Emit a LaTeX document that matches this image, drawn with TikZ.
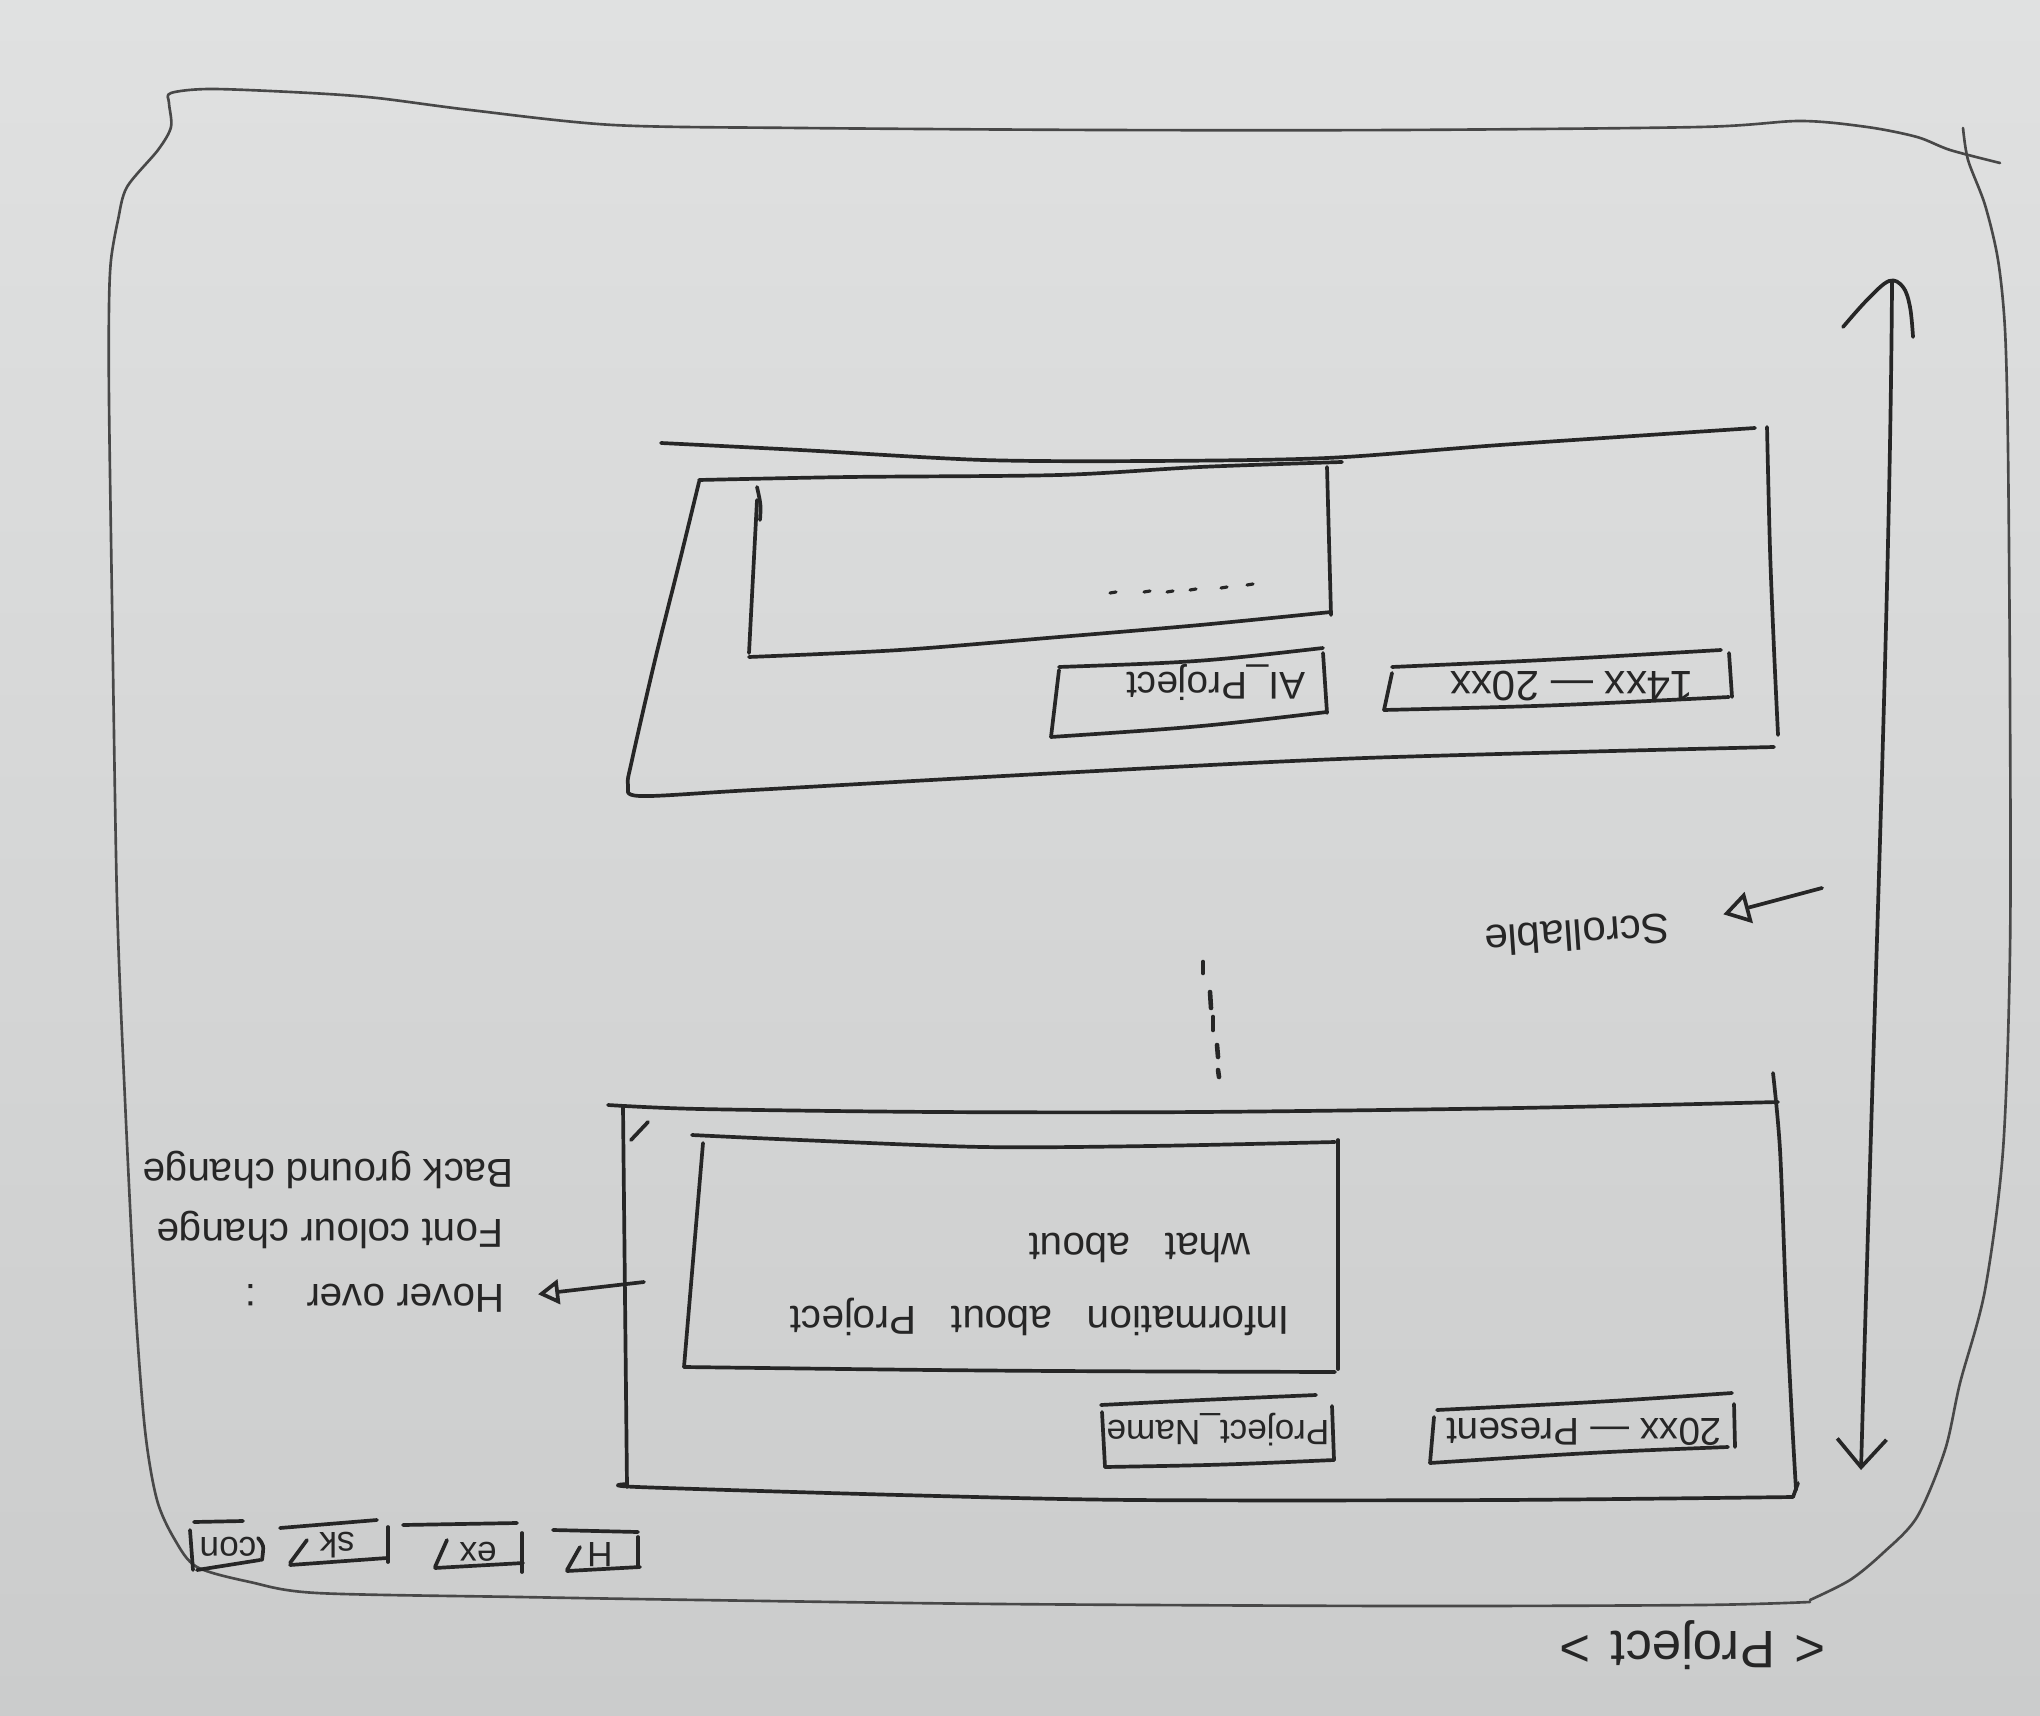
\documentclass[tikz,border=0pt]{standalone}
\usepackage{fontspec}
\setmainfont{Liberation Sans}
\usetikzlibrary{arrows.meta}
\definecolor{paperTop}{RGB}{224,225,225}
\definecolor{paperBot}{RGB}{203,204,204}
\definecolor{ink}{RGB}{38,38,38}
\definecolor{pencil}{RGB}{72,72,72}
\newcommand\fsz[1]{\fontsize{#1}{#1}\selectfont}
\tikzset{
  frame/.style={draw=pencil, line width=0.75pt, line cap=round, line join=round},
  pen/.style={draw=ink, line width=1.05pt, line cap=round, line join=round},
  hand/.style={text=ink, inner sep=0pt, rotate=180},
  dotmark/.style={draw=ink, line width=1.3pt, line cap=round},
}
\begin{document}
\begin{tikzpicture}[x=0.01cm, y=-0.01cm]
\useasboundingbox (0,0) rectangle (2040,1716);
\shade[top color=paperTop, bottom color=paperBot] (0,0) rectangle (2040,1716);

% ---------- page frame ----------
\draw[frame] plot[smooth, tension=0.5] coordinates {
  (2000,163) (1950,150) (1917,137) (1867,127) (1800,121) (1700,127)
  (1400,130) (1100,130) (800,128) (613,125) (470,110) (377,98) (310,93)
  (212,89) (171,93) (169,103) (171,127) (158,150) (127,187) (118,220)
  (111,260) (109,307) (109,400) (112,600) (117,900) (125,1100) (135,1300)
  (145,1430) (157,1500) (175,1540) (197,1567) (250,1582) (317,1593)
  (520,1597) (700,1600) (1000,1604) (1400,1606) (1700,1605) (1810,1602)};
\draw[frame] plot[smooth, tension=0.5] coordinates {
  (1963,128) (1968,160) (1985,205) (1998,260) (2005,330) (2008,450)
  (2010,700) (2010,950) (2003,1150) (1985,1290) (1960,1383) (1945,1450)
  (1917,1517) (1883,1553) (1850,1580) (1810,1600)};

% ---------- title ----------
\node[hand, font=\fsz{15}] (title) at (1693,1645)
  {<\hspace{0.2cm}Project\hspace{0.2cm}>};

% ---------- navigation tabs ----------
\draw[pen] (194,1522) -- (243,1521);
\draw[pen] (190,1530) -- (193,1570);
\draw[pen] (197,1570) -- (260,1560);
\draw[pen] (258,1538) .. controls (264,1545) .. (262,1560);
\node[hand, font=\fsz{10}] (navcon) at (228,1547) {con};

\draw[pen] (280,1528) -- (377,1520);
\draw[pen] (290,1563) -- (307,1540);
\draw[pen] (290,1565) -- (387,1558);
\draw[pen] (388,1527) -- (388,1562);
\node[hand, font=\fsz{10}] (navsk) at (337,1545) {sk};

\draw[pen] (403,1525) -- (517,1523);
\draw[pen] (435,1567) -- (447,1540);
\draw[pen] (435,1568) -- (523,1563);
\draw[pen] (522,1533) -- (522,1572);
\node[hand, font=\fsz{10}] (navex) at (478,1552) {ex};

\draw[pen] (553,1530) -- (638,1532);
\draw[pen] (567,1570) -- (580,1547);
\draw[pen] (567,1571) -- (640,1567);
\draw[pen] (638,1537) -- (638,1567);
\node[hand, font=\fsz{10}] (navh) at (600,1555) {H};

% ---------- scroll indicator ----------
\coordinate (scrollbot) at (1861,1470);
\coordinate (scrolltop) at (1892,282);
\draw[pen, {Straight Barb[length=8pt,width=14pt]}-]
  (scrollbot) .. controls (1874,1000) and (1890,600) .. (scrolltop);
% hand-drawn upper head
\draw[pen] plot[smooth, tension=0.6] coordinates {
  (1843,327) (1867,300) (1889,281) (1903,287) (1910,307) (1913,337)};

\node[hand, rotate=4, font=\fsz{12}] (scrolltxt) at (1577,935) {Scrollable};
\coordinate (scrollfrom) at (1822,888);
\draw[pen, -{Triangle[open, length=7.5pt, width=9pt]}, shorten >=0.55cm]
  (scrollfrom) -- (scrolltxt.west);

% ---------- upper project card ----------
\draw[pen] plot[smooth, tension=0.5] coordinates {
  (661,443) (800,450) (983,460) (1150,461) (1327,458) (1500,445) (1755,428)};
\draw[pen] plot[smooth, tension=0.5] coordinates {
  (1767,427) (1770,550) (1774,650) (1778,735)};
\draw[pen] plot[smooth, tension=0.5] coordinates {
  (699,482) (680,560) (655,660) (632,760) (628,785) (640,796) (753,790)
  (1059,773) (1365,758) (1774,747)};
\draw[pen] plot[smooth, tension=0.5] coordinates {
  (699,480) (850,477) (1059,475) (1200,467) (1342,462)};
% info panel
\draw[pen] (757,487) .. controls (761,505) .. (760,520);
\draw[pen] (757,500) -- (749,653);
\draw[pen] plot[smooth, tension=0.5] coordinates {
  (749,657) (900,650) (1059,637) (1200,625) (1331,612)};
\draw[pen] (1327,467) -- (1331,615);
\foreach \px/\py in {1113/593, 1147/592, 1170/592, 1193/590, 1224/588, 1250/585}
  \draw[dotmark, line width=0.9pt] (\px-3,\py) -- (\px+3,\py-1);
% name tab
\draw[pen] (1059,667) .. controls (1200,662) .. (1323,648);
\draw[pen] (1059,670) -- (1051,737);
\draw[pen] (1051,737) .. controls (1200,727) .. (1327,712);
\draw[pen] (1323,653) -- (1327,713);
\node[hand, font=\fsz{11}] (ainame) at (1216,683) {AI\_Project};
% date tab
\draw[pen] (1392,667) .. controls (1550,660) .. (1721,650);
\draw[pen] (1392,673) -- (1384,710);
\draw[pen] (1384,710) .. controls (1550,706) .. (1729,697);
\draw[pen] (1729,653) -- (1732,697);
\node[hand, font=\fsz{12}] (aidate) at (1572,686) {14xx — 20xx};

% ---------- more cards hint ----------
\draw[dotmark] (1203,962) -- (1203,973);
\draw[dotmark] (1210,992) -- (1211,1008);
\draw[dotmark] (1213,1017) -- (1213,1030);
\draw[dotmark] (1217,1045) -- (1218,1057);
\draw[dotmark] (1218,1070) -- (1219,1077);

% ---------- lower project card ----------
\draw[pen] plot[smooth, tension=0.5] coordinates {
  (608,1105) (700,1109) (937,1112) (1200,1112) (1518,1108) (1778,1102)};
\draw[pen] plot[smooth, tension=0.5] coordinates {
  (1773,1073) (1780,1150) (1786,1300) (1792,1420) (1796,1490)};
\draw[pen] (623,1107) -- (627,1487);
\draw[pen] (631,1140) -- (648,1122);
\draw[pen] plot[smooth, tension=0.5] coordinates {
  (627,1484) (638,1487) (900,1495) (1135,1500) (1500,1500) (1793,1497)};
\draw[pen] (1793,1497) -- (1798,1483);
% info panel
\draw[pen] plot[smooth, tension=0.5] coordinates {
  (692,1135) (800,1140) (983,1147) (1150,1146) (1335,1142)};
\draw[pen] (703,1143) -- (684,1367);
\draw[pen] (1338,1140) -- (1338,1369);
\draw[pen] (684,1367) .. controls (1000,1371) .. (1335,1372);
\node[hand, font=\fsz{11.5}] (infoa) at (1040,1317)
  {Information\hspace{0.35cm}about\hspace{0.35cm}Project};
\node[hand, font=\fsz{11.5}] (infob) at (1140,1248)
  {what\hspace{0.35cm}about};
% name tab
\draw[pen] (1101,1405) .. controls (1200,1400) .. (1316,1395);
\draw[pen] (1102,1412) -- (1105,1467);
\draw[pen] (1105,1467) .. controls (1220,1465) .. (1334,1460);
\draw[pen] (1332,1406) -- (1334,1460);
\node[hand, font=\fsz{10}] (pname) at (1218,1430) {Project\_Name};
% date tab
\draw[pen] (1437,1410) .. controls (1600,1402) .. (1732,1393);
\draw[pen] (1434,1417) -- (1430,1463);
\draw[pen] (1430,1463) .. controls (1600,1452) .. (1728,1447);
\draw[pen] (1734,1404) -- (1735,1447);
\node[hand, font=\fsz{11}] (pdate) at (1584,1432) {20xx — Present};

% ---------- hover note ----------
\node[hand, font=\fsz{11.5}] (hovera) at (375,1298) {Hover over\hspace{0.5cm}:};
\node[hand, font=\fsz{11.5}] (hoverb) at (330,1230) {Font colour change};
\node[hand, font=\fsz{11.5}] (hoverc) at (328,1170) {Back ground change};
\coordinate (hoverfrom) at (644,1282);
\draw[pen, -{Triangle[open, length=6pt, width=7pt]}, shorten >=0.33cm]
  (hoverfrom) -- (hovera.west);
\end{tikzpicture}
\end{document}
